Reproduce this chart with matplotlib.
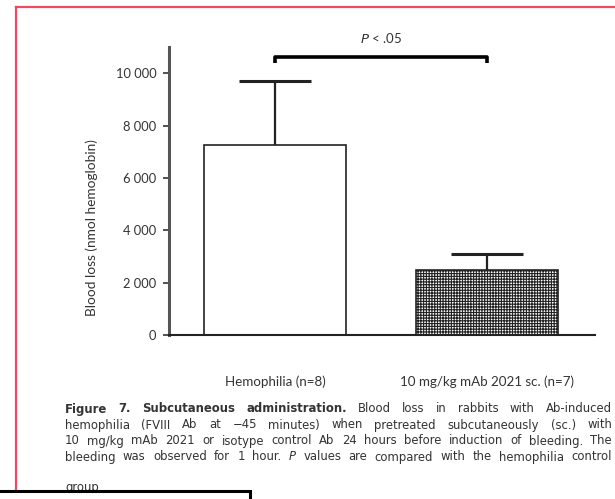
import numpy as np
import matplotlib
matplotlib.use("Agg")
import matplotlib.pyplot as plt
from matplotlib.patches import Rectangle
from matplotlib.lines import Line2D

# blood loss data (nmol hemoglobin), mean and SEM
groups = ["Hemophilia (n=8)", "10 mg/kg mAb 2021 sc. (n=7)"]
means = [7250, 2500]
sems = [2450, 590]
yticks = [0, 2000, 4000, 6000, 8000, 10000]
bracket_y = [10380, 10610]
p_text = "$\\it{P}$ < .05"

caption_lines = [
    [("Figure 7. Subcutaneous administration.", "bold"), ("Blood loss in rabbits with Ab-induced", "normal")],
    [("hemophilia (FVIII Ab at \u221245 minutes) when pretreated subcutaneously (sc.) with", "normal")],
    [("10 mg/kg mAb 2021 or isotype control Ab 24 hours before induction of bleeding. The", "normal")],
    [("bleeding was observed for 1 hour.", "normal"), ("P", "italic"),
     ("values are compared with the hemophilia control", "normal")],
    [("group.", "normal")],
]

W, H = 615, 499
fig = plt.figure(figsize=(W / 100, H / 100), dpi=100)
plt.rcParams["hatch.linewidth"] = 0.8

def fx(px):
    return px / W

def fy(py):
    return 1 - py / H

ax = fig.add_axes([fx(169), fy(335), fx(595) - fx(169), fy(47) - fy(335)])
chart_font = "Lato"
ink = "#222222"

x = np.arange(len(groups))
ax.bar(x[0], means[0], width=0.67, color="white", edgecolor=ink, linewidth=1.2, zorder=2)
ax.bar(x[1], means[1], width=0.67, color="white", edgecolor=ink, linewidth=1.2,
       hatch="++++++", zorder=2)
# upper error bars only
tops = np.array(means) + np.array(sems)
ax.vlines(x, means, tops, color=ink, linewidth=1.6, zorder=3)
ax.hlines(tops, x - 0.17, x + 0.17, color=ink, linewidth=2.2, zorder=3)

ax.set_xlim(-0.5, 1.51)
ax.set_ylim(0, 11000)
ax.set_yticks(yticks)
ax.set_yticklabels([f"{v:,}".replace(",", " ") for v in yticks],
                   fontfamily=chart_font, fontsize=9.3, color="#333333")
ax.set_xticks(x)
ax.set_xticklabels(groups, fontfamily=chart_font, fontsize=9.6, color="#333333")
ax.tick_params(axis="x", length=0, pad=29)
ax.tick_params(axis="y", length=4, width=1.3, color="#444444", pad=5)
for s in ["top", "right"]:
    ax.spines[s].set_visible(False)
ax.spines["left"].set_color("#555555")
ax.spines["left"].set_linewidth(2.2)
ax.spines["bottom"].set_color(ink)
ax.spines["bottom"].set_linewidth(1.5)

# significance bracket between the two groups
ax.plot([x[0], x[0], x[1], x[1]], [bracket_y[0], bracket_y[1], bracket_y[1], bracket_y[0]],
        color="black", linewidth=2.6, clip_on=False, solid_capstyle="butt")
ax.text(0.5 * (x[0] + x[1]), 11330, p_text, ha="center", va="center",
        fontfamily=chart_font, fontsize=9.5, color="#333333", clip_on=False)

fig.text(fx(92), fy(228), "Blood loss (nmol hemoglobin)", rotation=90, ha="center",
         va="center", fontfamily=chart_font, fontsize=9.8, color="#333333")

# justified caption block
cap_font = "DejaVu Sans"
cap_size = 8.4
left_px, right_px = 65, 612
line_y = [409, 425, 441, 457, 488]
renderer = fig.canvas.get_renderer()
for i, (segs, ly) in enumerate(zip(caption_lines, line_y)):
    words = []
    for text, style in segs:
        for w in text.split(" "):
            words.append((w, style))
    arts = []
    for w, style in words:
        t = fig.text(0, fy(ly), w, ha="left", va="center", fontfamily=cap_font, fontsize=cap_size,
                     fontweight="bold" if style == "bold" else "normal",
                     fontstyle="italic" if style == "italic" else "normal", color="#333333")
        arts.append(t)
    widths = [a.get_window_extent(renderer).width for a in arts]
    last = i == len(caption_lines) - 1
    if last or len(arts) == 1:
        gap = 3.0
    else:
        gap = (right_px - left_px - sum(widths)) / (len(arts) - 1)
    pos = left_px
    for a, w in zip(arts, widths):
        a.set_x(fx(pos))
        pos += w + gap

# red frame around the figure panel
fig.add_artist(Line2D([fx(16), fx(W)], [fy(7), fy(7)], color="#f04a63", linewidth=1.6))
fig.add_artist(Line2D([fx(16), fx(16)], [fy(7), fy(H + 5)], color="#f04a63", linewidth=1.6))

# white box with black border in the lower left corner
fig.add_artist(Rectangle((fx(-10), fy(H + 10)), fx(260), fy(491) - fy(H + 10),
                         transform=fig.transFigure, facecolor="white", edgecolor="black",
                         linewidth=2.2, zorder=10))

fig.savefig("out.png", dpi=100)
